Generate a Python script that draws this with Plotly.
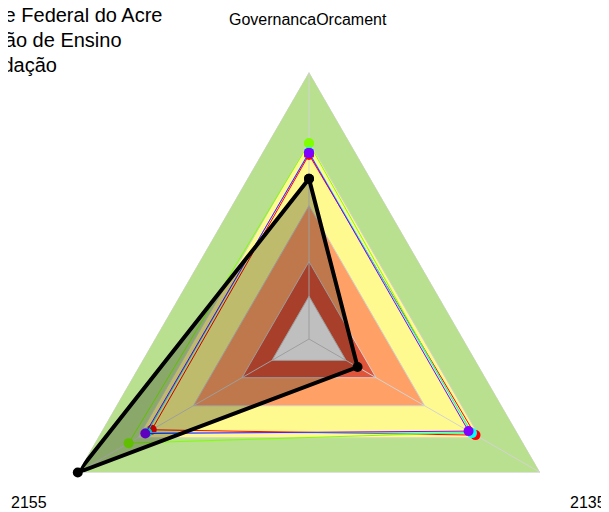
import plotly.graph_objects as go

# ---------------- data ----------------
categories = ["GovernancaOrcament", "2135", "2155"]

band_levels = [1.00, 0.74, 0.50, 0.29, 0.16]
band_colors = ["#B8E08E", "#FFFA90", "#FFA066", "#E0553A", "#FFFFFF"]

series_names = ["Grupo 1", "Grupo 2", "Grupo 3", "Grupo 4"]
series_colors = ["#FF0000", "#80FF00", "#00FFFF", "#8000FF"]
red_vals = [0.690, 0.720, 0.680]
lime_vals = [0.733, 0.700, 0.780]
cyan_vals = [0.700, 0.705, 0.700]
purple_vals = [0.697, 0.690, 0.708]
series_values = [red_vals, lime_vals, cyan_vals, purple_vals]

inst_name = "Universidade Federal do Acre"
inst_vals = [0.60, 0.21, 1.00]

title_lines = ["Universidade Federal do Acre", "Instituição de Ensino", "Fundação"]

# ---------------- layout geometry (figure pixels) ----------------
W, H = 609, 604
ML, MR, MT, MB = 21, 28, 64, 6
PW, PH = W - ML - MR, H - MT - MB


def px_x(px):
    return (px - ML) / PW


def px_y(py):
    return (H - MB - py) / PH


def closed(vals):
    return list(vals) + [vals[0]]


cats_closed = closed(categories)

fig = go.Figure()

# background bands
for lvl, col in zip(band_levels, band_colors):
    fig.add_trace(go.Scatterpolar(
        r=closed([lvl] * len(categories)), theta=cats_closed,
        mode="lines", fill="toself", fillcolor=col,
        line=dict(color="#D0D0D0", width=1),
        hoverinfo="skip", showlegend=False))

# spokes
sp_r, sp_t = [], []
for c in categories:
    sp_r += [0, band_levels[0], None]
    sp_t += [c, c, None]
fig.add_trace(go.Scatterpolar(
    r=sp_r, theta=sp_t, mode="lines",
    line=dict(color="#D3D3D3", width=1),
    hoverinfo="skip", showlegend=False))

# comparison series
for name, col, vals in zip(series_names, series_colors, series_values):
    fig.add_trace(go.Scatterpolar(
        r=closed(vals), theta=cats_closed, name=name,
        mode="lines+markers",
        line=dict(color=col, width=1),
        marker=dict(color=col, size=10),
        showlegend=False))

# institution
fig.add_trace(go.Scatterpolar(
    r=closed(inst_vals), theta=cats_closed, name=inst_name,
    mode="lines+markers", fill="toself", fillcolor="rgba(0,0,0,0.25)",
    line=dict(color="black", width=4),
    marker=dict(color="black", size=10),
    showlegend=False))

font_family = "Liberation Sans, Arial, sans-serif"

annotations = []
# title block (partly outside the left edge, as in the original)
for text, right_px, mid_px in zip(title_lines, [156.0, 115.7, 51.0], [7.0, 32.0, 57.0]):
    annotations.append(dict(
        text=text, xref="paper", yref="paper",
        x=px_x(right_px), y=px_y(mid_px), xanchor="right", yanchor="middle",
        showarrow=False, font=dict(size=20, color="black", family=font_family)))

# axis labels
label_pos = {"GovernancaOrcament": (300.3, 11.3), "2135": (580.3, 494.0), "2155": (21.2, 494.0)}
for c in categories:
    lx, ly = label_pos[c]
    annotations.append(dict(
        text=c, xref="paper", yref="paper",
        x=px_x(lx), y=px_y(ly), xanchor="center", yanchor="middle",
        showarrow=False, font=dict(size=16, color="black", family=font_family)))

fig.update_layout(
    width=W, height=H,
    margin=dict(l=ML, r=MR, t=MT, b=MB, pad=0),
    paper_bgcolor="white",
    showlegend=False,
    font=dict(family=font_family),
    annotations=annotations,
    polar=dict(
        domain=dict(x=[0, 1], y=[0, 1]),
        bgcolor="rgba(0,0,0,0)",
        gridshape="linear",
        radialaxis=dict(visible=False, range=[0, 1], showgrid=False,
                        showline=False, showticklabels=False, ticks=""),
        angularaxis=dict(direction="clockwise", rotation=90,
                         showgrid=False, showline=False, ticks="",
                         showticklabels=False),
    ),
)

fig.write_html("out.html")
